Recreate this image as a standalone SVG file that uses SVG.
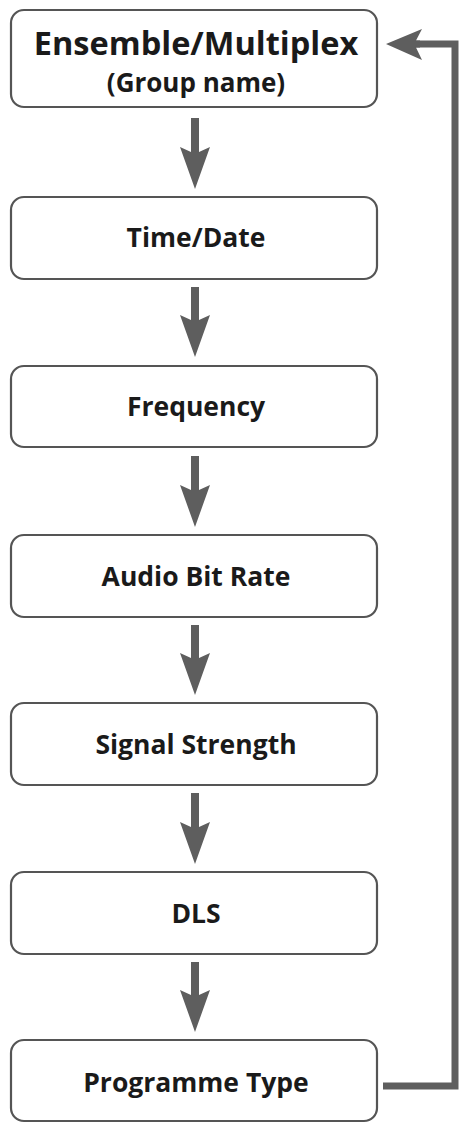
<svg xmlns="http://www.w3.org/2000/svg" width="465" height="1123" viewBox="0 0 465 1123">
<style>
.box{fill:#fff;stroke:#555;stroke-width:2.2}
.lbl{font-family:"Open Sans","Liberation Sans",sans-serif;font-weight:bold;fill:#1a1a1a;text-anchor:middle;font-size:26.5px}
.arr{fill:#5e5e5e}
.line{fill:none;stroke:#5e5e5e;stroke-width:7}
</style>
<g id="n1"><rect class="box" x="11" y="10" width="366" height="97" rx="13"/><text class="lbl" x="196" y="55" style="font-size:32.5px">Ensemble/Multiplex</text><text class="lbl" x="196" y="92" style="font-size:26px">(Group name)</text></g>
<g id="n2"><rect class="box" x="11" y="197" width="366" height="82" rx="13"/><text class="lbl" x="196" y="247">Time/Date</text></g>
<g id="n3"><rect class="box" x="11" y="366" width="366" height="81" rx="13"/><text class="lbl" x="196" y="416">Frequency</text></g>
<g id="n4"><rect class="box" x="11" y="535" width="366" height="82" rx="13"/><text class="lbl" x="196" y="586">Audio Bit Rate</text></g>
<g id="n5"><rect class="box" x="11" y="703" width="366" height="82" rx="13"/><text class="lbl" x="196" y="754">Signal Strength</text></g>
<g id="n6"><rect class="box" x="11" y="872" width="366" height="82" rx="13"/><text class="lbl" x="196" y="923">DLS</text></g>
<g id="n7"><rect class="box" x="11" y="1040" width="366" height="81" rx="13"/><text class="lbl" x="196" y="1092">Programme Type</text></g>
<g id="connectors">
<path class="arr" d="M191,118 H199 V152 L210,147 L195,189 L180,147 L191,152 Z"/>
<path class="arr" d="M191,287 H199 V320 L210,315 L195,357 L180,315 L191,320 Z"/>
<path class="arr" d="M191,456 H199 V490 L210,485 L195,527 L180,485 L191,490 Z"/>
<path class="arr" d="M191,625 H199 V658 L210,653 L195,695 L180,653 L191,658 Z"/>
<path class="arr" d="M191,793 H199 V827 L210,822 L195,864 L180,822 L191,827 Z"/>
<path class="arr" d="M191,962 H199 V995 L210,990 L195,1032 L180,990 L191,995 Z"/>
<path class="line" d="M383,1086 H455 V44 H415"/>
<path class="arr" d="M386,44 L422,29 L416,40.5 L420,40.5 V47.5 L416,47.5 L422,60 Z"/>
</g>
</svg>
